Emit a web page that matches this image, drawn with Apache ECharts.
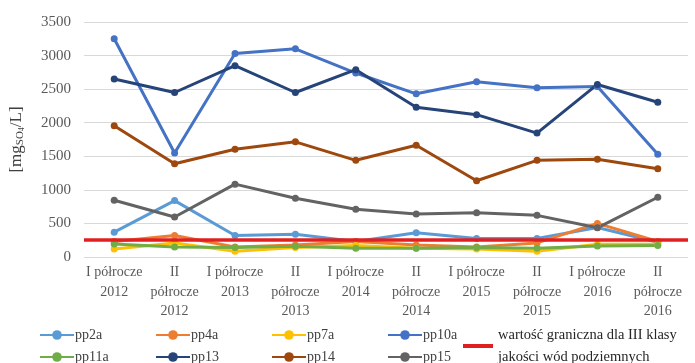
<!DOCTYPE html>
<html>
<head>
<meta charset="utf-8">
<script src="https://cdn.jsdelivr.net/npm/echarts@6/dist/echarts.min.js"></script>
<style>html,body{margin:0;padding:0;background:#fff}#c{width:695px;height:363px}</style>
</head>
<body>
<div id="c"></div>
<script>
const categories = ['I półrocze\n2012','II\npółrocze\n2012','I półrocze\n2013','II\npółrocze\n2013','I półrocze\n2014','II\npółrocze\n2014','I półrocze\n2015','II\npółrocze\n2015','I półrocze\n2016','II\npółrocze\n2016'];
const pp2a  = [370, 840, 320, 340, 230, 360, 275, 275, 440, 220];
const pp4a  = [230, 320, 150, 180, 230, 180, 150, 210, 500, 230];
const pp7a  = [120, 210, 85, 140, 170, 130, 120, 85, 190, 190];
const pp10a = [3250, 1550, 3030, 3100, 2740, 2430, 2610, 2520, 2540, 1530];
const pp11a = [195, 150, 140, 160, 130, 130, 140, 130, 165, 170];
const pp13  = [2650, 2450, 2850, 2450, 2790, 2230, 2120, 1845, 2570, 2305];
const pp14  = [1955, 1390, 1605, 1715, 1440, 1665, 1135, 1440, 1455, 1315];
const pp15  = [845, 595, 1085, 875, 710, 640, 660, 620, 435, 890];
const limitValue = 250;
const limitName = 'wartość graniczna dla III klasy\njakości wód podziemnych';
const yTicks = {min: 0, max: 3500, interval: 500};

const seriesDefs = [
  ['pp2a', pp2a, '#5B9BD5'],
  ['pp4a', pp4a, '#ED7D31'],
  ['pp7a', pp7a, '#FFC000'],
  ['pp10a', pp10a, '#4472C4'],
  ['pp11a', pp11a, '#70AD47'],
  ['pp13', pp13, '#264478'],
  ['pp14', pp14, '#9E480E'],
  ['pp15', pp15, '#636363']
];
const font = 'Liberation Serif, Times New Roman, serif';
const series = seriesDefs.map(([n, d, c]) => ({
  name: n, type: 'line', data: d, color: c,
  symbol: 'circle', symbolSize: 7,
  lineStyle: {width: 3, color: c},
  itemStyle: {color: c},
  emphasis: {disabled: true}, animation: false
}));
series.push({
  name: limitName, type: 'line', data: [], color: '#E02020',
  symbol: 'none', lineStyle: {width: 4, color: '#E02020'},
  markLine: {
    silent: true, symbol: 'none', label: {show: false},
    lineStyle: {color: '#E02020', width: 3.5, type: 'solid'},
    data: [{yAxis: limitValue}]
  },
  animation: false
});
// one legend per item, laid out as a 4-column, 2-row block
const legends = seriesDefs.map(([n], i) => ({
  left: 39 + (i % 4) * 116, top: i < 4 ? 328 : 350,
  orient: 'horizontal', itemWidth: 34, itemHeight: 12, itemGap: 0, padding: 0,
  data: [n],
  textStyle: {fontFamily: font, fontSize: 14, color: '#404040', padding: [0,0,0,-4]}
}));
legends.push({left: 463, top: 324, itemWidth: 30, itemHeight: 4, icon: 'rect', padding: 0, data: [limitName],
  textStyle: {fontFamily: font, fontSize: 14.5, color: '#262626', lineHeight: 22}});

const chart = echarts.init(document.getElementById('c'));
chart.setOption({
  backgroundColor: '#fff',
  animation: false,
  grid: {left: 81, right: 7, top: 22, bottom: 106, containLabel: false},
  legend: legends,
  xAxis: {
    type: 'category', data: categories, boundaryGap: true,
    axisLine: {show: false}, axisTick: {show: false},
    axisLabel: {fontFamily: font, fontSize: 14, color: '#595959', lineHeight: 19.5, interval: 0, margin: 6}
  },
  yAxis: {
    type: 'value', min: yTicks.min, max: yTicks.max, interval: yTicks.interval,
    name: '[mg{s|SO}{ss|4}/L]', nameLocation: 'middle', nameGap: 58, nameRotate: 90,
    nameTextStyle: {fontFamily: font, fontSize: 17, color: '#404040',
      rich: {s: {fontFamily: font, fontSize: 11, color: '#404040', verticalAlign: 'bottom', padding: [8,0,0,0]},
             ss: {fontFamily: font, fontSize: 8, color: '#404040', verticalAlign: 'bottom', padding: [10,0,0,0]}}},
    axisLine: {show: false}, axisTick: {show: false},
    splitLine: {lineStyle: {color: '#D9D9D9', width: 1}},
    axisLabel: {fontFamily: font, fontSize: 15, color: '#595959', margin: 13, formatter: v => String(v)}
  },
  series: series
});
</script>
</body>
</html>
